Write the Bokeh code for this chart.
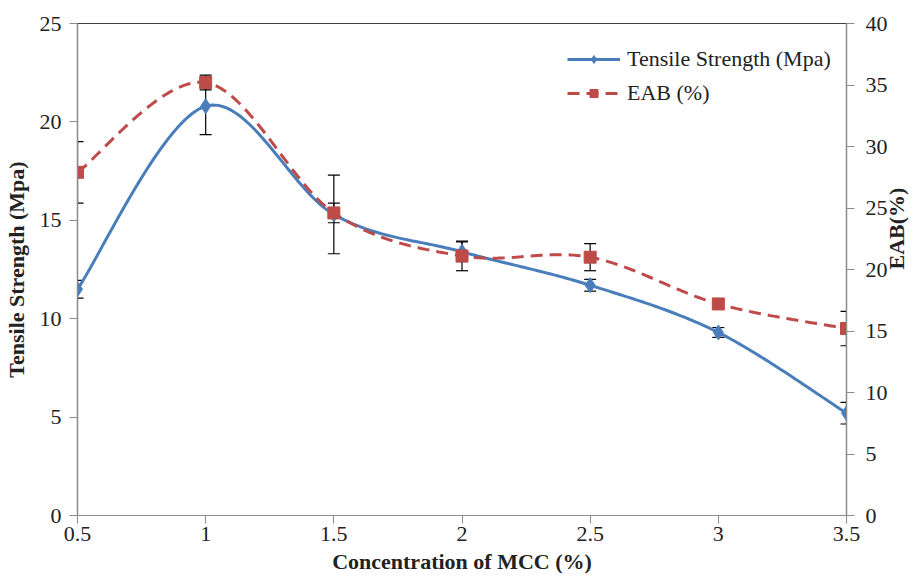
import math
import numpy as np
from bokeh.plotting import figure
from bokeh.models import (Range1d, LinearAxis, FixedTicker, ColumnDataSource,
                          Whisker, TeeHead, Legend, LegendItem)
from bokeh.embed import file_html
from bokeh.resources import INLINE

# ---- data ----
conc = [0.5, 1.0, 1.5, 2.0, 2.5, 3.0, 3.5]
x_tick_labels = ["0.5", "1", "1.5", "2", "2.5", "3", "3.5"]
tensile = [11.5, 20.8, 15.3, 13.4, 11.7, 9.3, 5.2]
tensile_err = [0.45, 1.45, 2.0, 0.5, 0.3, 0.25, 0.55]
eab = [27.9, 35.2, 24.6, 21.1, 21.0, 17.2, 15.2]
eab_err = [2.5, 0.6, 0.8, 1.2, 1.1, 0.4, 1.4]

BLUE = "#4A7EBB"
RED = "#BE4B48"
FONT = '"Liberation Serif", "Times New Roman", serif'

BL, BR, BT, BB = 77, 78, 23, 66
W, H = 924, 581
p = figure(width=W, height=H, output_backend="svg", toolbar_location=None,
           x_range=Range1d(0.5, 3.5), y_range=Range1d(0, 25),
           min_border_left=BL, min_border_right=BR, min_border_top=BT,
           min_border_bottom=BB)
p.extra_y_ranges = {"eab": Range1d(0, 40)}
p.xgrid.visible = False
p.ygrid.visible = False
p.outline_line_color = "#404040"
p.outline_line_width = 1.2
p.background_fill_color = "white"
p.border_fill_color = "white"

fw = W - BL - BR
fh = H - BT - BB


def smooth(xs, ys, xr, yr, n=40):
    sx = fw / (xr[1] - xr[0])
    sy = fh / (yr[1] - yr[0])
    P = np.column_stack([np.array(xs) * sx, np.array(ys) * sy])
    out = []
    m = len(P)
    for i in range(m - 1):
        p0 = P[i - 1] if i > 0 else P[i]
        p1 = P[i]
        p2 = P[i + 1]
        p3 = P[i + 2] if i + 2 < m else P[i + 1]
        c1 = p1 + (p2 - p0) / 6.0
        c2 = p2 - (p3 - p1) / 6.0
        t = np.linspace(0, 1, n)[:, None]
        seg = ((1 - t) ** 3) * p1 + 3 * ((1 - t) ** 2) * t * c1 + 3 * (1 - t) * t ** 2 * c2 + t ** 3 * p2
        if i > 0:
            seg = seg[1:]
        out.append(seg)
    out = np.vstack(out)
    return list(out[:, 0] / sx), list(out[:, 1] / sy)


tx, ty = smooth(conc, tensile, (0, 3), (0, 25))
ex, ey = smooth(conc, eab, (0, 3), (0, 40))

ts_src = ColumnDataSource(dict(x=conc,
                               lo=[v - e for v, e in zip(tensile, tensile_err)],
                               hi=[v + e for v, e in zip(tensile, tensile_err)]))
eab_src = ColumnDataSource(dict(x=conc,
                                lo=[v - e for v, e in zip(eab, eab_err)],
                                hi=[v + e for v, e in zip(eab, eab_err)]))
for src, rn in ((ts_src, "default"), (eab_src, "eab")):
    w = Whisker(source=src, base="x", lower="lo", upper="hi",
                line_color="black", line_width=1.2,
                upper_head=TeeHead(size=12, line_color="black", line_width=1.2),
                lower_head=TeeHead(size=12, line_color="black", line_width=1.2))
    w.y_range_name = rn
    p.add_layout(w)

ts_line = p.line(tx, ty, line_color=BLUE, line_width=3)
ts_pts = p.scatter(conc, tensile, marker="diamond", size=15,
                   fill_color=BLUE, line_color=BLUE)
eab_line = p.line(ex, ey, line_color=RED, line_width=3, line_dash="12 7",
                  y_range_name="eab")
eab_pts = p.scatter(conc, eab, marker="square", size=12,
                    fill_color=RED, line_color=RED, y_range_name="eab")


def style_axis(ax):
    ax.axis_line_color = "#8C8C8C"
    ax.axis_line_width = 1.2
    ax.major_tick_line_color = "#8C8C8C"
    ax.major_tick_in = 0
    ax.major_tick_out = 8
    ax.minor_tick_line_color = None
    ax.major_label_text_font = FONT
    ax.major_label_text_font_size = "22px"
    ax.major_label_text_color = "#222222"
    ax.axis_label_text_font = FONT
    ax.axis_label_text_font_size = "22px"
    ax.axis_label_text_font_style = "bold"
    ax.axis_label_text_color = "#222222"


xa = p.xaxis[0]
xa.ticker = FixedTicker(ticks=conc)
xa.major_label_overrides = {c: lab for c, lab in zip(conc, x_tick_labels)}
xa.axis_label = "Concentration of MCC (%)"
style_axis(xa)
xa.major_label_standoff = 3
xa.axis_label_standoff = 5

ya = p.yaxis[0]
ya.ticker = FixedTicker(ticks=[0, 5, 10, 15, 20, 25])
ya.axis_label = "Tensile Strength (Mpa)"
style_axis(ya)
ya.major_label_standoff = 8
ya.axis_label_standoff = 8

ra = LinearAxis(y_range_name="eab", axis_label="EAB(%)",
                ticker=FixedTicker(ticks=[0, 5, 10, 15, 20, 25, 30, 35, 40]))
style_axis(ra)
ra.major_label_standoff = 11
ra.axis_label_standoff = 6
ra.axis_label_orientation = math.pi / 2
p.add_layout(ra, "right")

legend = Legend(items=[LegendItem(label="Tensile Strength (Mpa)", renderers=[ts_line, ts_pts]),
                       LegendItem(label="EAB (%)", renderers=[eab_line, eab_pts])],
                location=(490, 405))
legend.border_line_color = None
legend.background_fill_alpha = 0
legend.padding = 0
legend.margin = 0
legend.label_text_font = FONT
legend.label_text_font_size = "22px"
legend.label_text_color = "#222222"
legend.glyph_width = 53
legend.glyph_height = 20
legend.label_height = 34
legend.label_standoff = 7
legend.spacing = 0
p.add_layout(legend)

open("out.html", "w").write(file_html(p, INLINE))
